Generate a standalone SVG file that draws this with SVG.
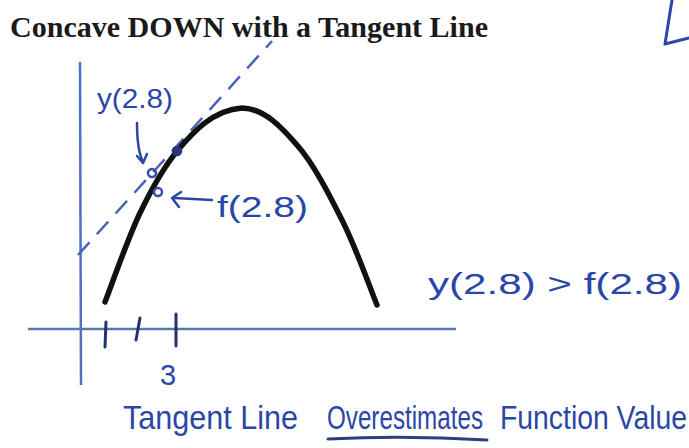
<svg xmlns="http://www.w3.org/2000/svg" width="689" height="448" viewBox="0 0 689 448">
  <style>
    .hand { font-family: "Liberation Sans", "DejaVu Sans", sans-serif; fill: #2a47a8; }
    .ink { stroke: #2a47a8; fill: none; stroke-linecap: round; stroke-linejoin: round; }
    .tick { stroke: #23336f; stroke-width: 3; stroke-linecap: round; }
  </style>
  <rect width="689" height="448" fill="#ffffff"/>

  <g id="title">
    <text x="10" y="37" font-family="'Liberation Serif', 'Times New Roman', serif" font-weight="bold" font-size="30" fill="#1a1a1a" textLength="478" lengthAdjust="spacingAndGlyphs">Concave DOWN with a Tangent Line</text>
  </g>

  <g id="corner-mark">
    <path class="ink" stroke-width="3" d="M672,0 L665,44 L689,38"/>
  </g>

  <g id="axes">
    <line x1="80" y1="62" x2="81" y2="385" stroke="#4f6fc8" stroke-width="2.5"/>
    <line x1="28" y1="329" x2="456" y2="329" stroke="#5a78b0" stroke-width="2.5"/>
    <line class="tick" x1="106" y1="322" x2="105" y2="347"/>
    <line class="tick" x1="140" y1="318" x2="136" y2="340"/>
    <line class="tick" x1="176" y1="314" x2="176" y2="346"/>
    <text class="hand" x="168" y="385" font-size="29" text-anchor="middle" fill="#2a3f90">3</text>
  </g>

  <g id="tangent-line">
    <line x1="78" y1="255" x2="272" y2="41" stroke="#4a63b8" stroke-width="2.5" stroke-dasharray="17 11"/>
  </g>

  <g id="curve">
    <path d="M105,302 C110.8,287.2 127.8,238.3 140,213 C152.2,187.7 164.2,166.3 178,150 C191.8,133.7 212,110 242,108 C265,108 284,130 297,145 C313.7,163.8 329.7,195.3 343,222 C356.3,248.7 371.3,291.2 377,305" fill="none" stroke="#111111" stroke-width="5.5" stroke-linecap="round"/>
  </g>

  <g id="points">
    <circle cx="177" cy="151" r="4.5" fill="#2a3380" stroke="#2a3380" stroke-width="1.5"/>
    <circle cx="152" cy="173" r="4" fill="none" stroke="#3a4aa8" stroke-width="2.5"/>
    <circle cx="158" cy="192" r="4" fill="none" stroke="#3a4aa8" stroke-width="2.5"/>
  </g>

  <g id="label-y">
    <text class="hand" x="97" y="108" font-size="28" textLength="76" lengthAdjust="spacingAndGlyphs">y(2.8)</text>
    <path class="ink" stroke-width="2.5" d="M137,123 Q137,150 143,162"/>
    <path class="ink" stroke-width="2.5" d="M137,156 L143,163 L147,154"/>
  </g>

  <g id="label-f">
    <path class="ink" stroke-width="2.5" d="M174,198 L212,200"/>
    <path class="ink" stroke-width="2.5" d="M181,192 L172,198 L179,207"/>
    <text class="hand" x="217" y="217" font-size="30" textLength="91" lengthAdjust="spacingAndGlyphs">f(2.8)</text>
  </g>

  <g id="inequality">
    <text class="hand" x="428" y="294" font-size="30" textLength="254" lengthAdjust="spacingAndGlyphs">y(2.8) &gt; f(2.8)</text>
  </g>

  <g id="conclusion">
    <g transform="translate(0,429) scale(1,1.25)">
      <text class="hand" x="123" y="0" font-size="26" textLength="175" lengthAdjust="spacingAndGlyphs">Tangent Line</text>
      <text class="hand" x="327" y="0" font-size="26" textLength="156" lengthAdjust="spacingAndGlyphs">Overestimates</text>
      <text class="hand" x="500" y="0" font-size="26" textLength="187" lengthAdjust="spacingAndGlyphs">Function Value</text>
    </g>
    <path d="M328,439 Q405,435 487,440" fill="none" stroke="#2a3f80" stroke-width="3" stroke-linecap="round"/>
  </g>
</svg>
